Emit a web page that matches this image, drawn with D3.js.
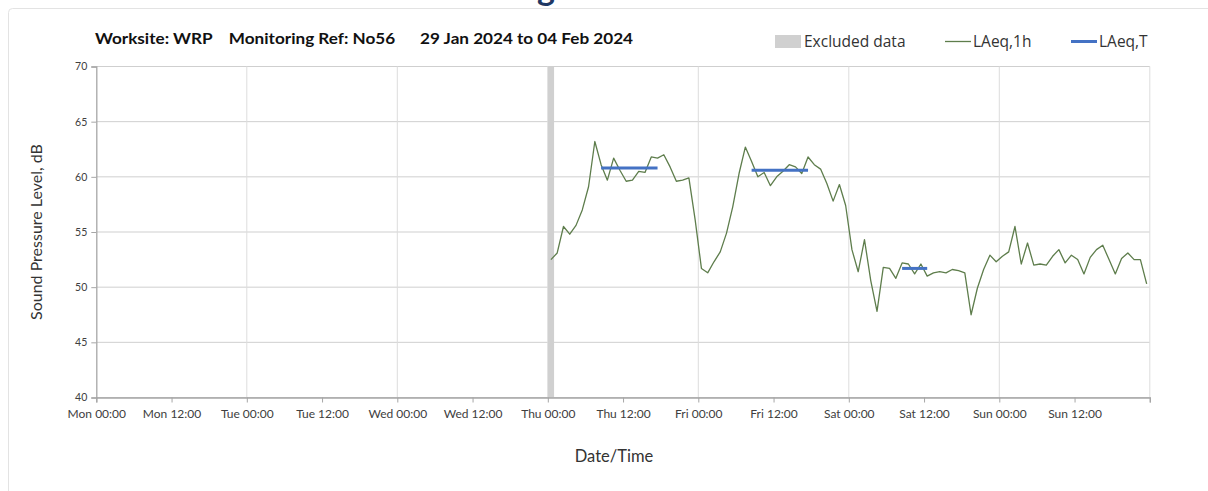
<!DOCTYPE html>
<html>
<head>
<meta charset="utf-8">
<script src="https://cdn.jsdelivr.net/npm/d3@7"></script>
<style>
  html, body { margin: 0; padding: 0; background: #ffffff; }
  svg { display: block; }
  text { font-family: Lato, "Open Sans", sans-serif; }
</style>
</head>
<body>
<svg id="chart" width="1208" height="491"></svg>
<script>
// ---------------- DATA ----------------
const titleText = "Worksite: WRP    Monitoring Ref: No56      29 Jan 2024 to 04 Feb 2024";
const xTickLabels = ["Mon 00:00", "Mon 12:00", "Tue 00:00", "Tue 12:00", "Wed 00:00", "Wed 12:00",
  "Thu 00:00", "Thu 12:00", "Fri 00:00", "Fri 12:00", "Sat 00:00", "Sat 12:00", "Sun 00:00", "Sun 12:00"];
const yTicks = [40, 45, 50, 55, 60, 65, 70];
// hours from Mon 00:00 of the first LAeq,1h point (hourly values, plotted at mid-hour)
const laeq1hStartHour = 72.5;
const laeq1hValues = [
  52.5, 53.1, 55.5, 54.8, 55.6, 57.0, 59.1, 63.2, 61.1, 59.7, 61.7, 60.6, 59.6, 59.7, 60.5, 60.4,
  61.8, 61.7, 62.0, 60.9, 59.6, 59.7, 59.9, 56.1, 51.7, 51.3, 52.3, 53.2, 54.9, 57.3, 60.3, 62.7,
  61.4, 60.0, 60.4, 59.2, 60.0, 60.5, 61.1, 60.9, 60.3, 61.8, 61.1, 60.7, 59.4, 57.8, 59.3, 57.4,
  53.4, 51.4, 54.3, 50.6, 47.8, 51.8, 51.7, 50.8, 52.2, 52.1, 51.2, 52.1, 51.0, 51.3, 51.4, 51.3,
  51.6, 51.5, 51.3, 47.5, 49.9, 51.6, 52.9, 52.3, 52.8, 53.2, 55.5, 52.1, 54.0, 52.0, 52.1, 52.0,
  52.8, 53.4, 52.2, 52.9, 52.5, 51.2, 52.7, 53.4, 53.8, 52.5, 51.2, 52.6, 53.1, 52.5, 52.5, 50.3
];
const laeqTStart = [80.5, 104.5, 128.5];
const laeqTEnd = [89.5, 113.5, 132.5];
const laeqTValues = [60.8, 60.6, 51.7];
const excludedStart = [72];
const excludedEnd = [73];
const legendLabels = ["Excluded data", "LAeq,1h", "LAeq,T"];

// ---------------- CHART ----------------
const svg = d3.select("#chart");
const W = 1208, H = 491;
const plot = { left: 96.3, right: 1149.8, top: 66.5, bottom: 397.5 };

const x = d3.scaleLinear().domain([0, 168]).range([plot.left, plot.right]);
const y = d3.scaleLinear().domain([40, 70]).range([plot.bottom, plot.top]);

// page frame
svg.append("rect").attr("x", 8.5).attr("y", 8.5).attr("width", W + 20).attr("height", H + 20)
  .attr("rx", 4).attr("fill", "none").attr("stroke", "#e3e3e3").attr("stroke-width", 1);

// cut-off heading fragment at top
svg.append("text").attr("x", 537).attr("y", 0).text("g")
  .attr("font-size", 34).attr("font-weight", "bold").attr("fill", "#1f3864");

// gridlines
const g = svg.append("g");
g.selectAll(".hgrid").data(yTicks).join("line")
  .attr("x1", plot.left).attr("x2", plot.right)
  .attr("y1", d => y(d)).attr("y2", d => y(d))
  .attr("stroke", "#cfcfcf").attr("stroke-width", 1);
const dayTicks = d3.range(24, 169, 24);
g.selectAll(".vgrid").data(dayTicks).join("line")
  .attr("x1", d => x(d)).attr("x2", d => x(d))
  .attr("y1", plot.top).attr("y2", plot.bottom)
  .attr("stroke", "#dddddd").attr("stroke-width", 1);

// excluded band
g.selectAll(".excl").data(excludedStart).join("rect")
  .attr("x", (d) => x(d))
  .attr("width", (d, i) => x(excludedEnd[i]) - x(d))
  .attr("y", plot.top).attr("height", plot.bottom - plot.top)
  .attr("fill", "#d0d0d0");

// axes
const xAxis = d3.axisBottom(x)
  .tickValues(d3.range(0, 169, 12))
  .tickSize(5)
  .tickFormat((d, i) => xTickLabels[i] || "");
const xg = svg.append("g").attr("transform", `translate(0,${plot.bottom})`).call(xAxis);
xg.select(".domain").attr("stroke", "#a6a6a6").attr("stroke-width", 1.3);
xg.selectAll(".tick line").attr("stroke", "#a6a6a6");
xg.selectAll(".tick text").attr("font-size", 12).attr("fill", "#404040").attr("dy", "1.05em");

const yAxis = d3.axisLeft(y).tickValues(yTicks).tickSize(5).tickFormat(d3.format("d"));
const yg = svg.append("g").attr("transform", `translate(${plot.left},0)`).call(yAxis);
yg.select(".domain").attr("stroke", "#a6a6a6").attr("stroke-width", 1.3);
yg.selectAll(".tick line").attr("stroke", "#a6a6a6");
yg.selectAll(".tick text").attr("font-size", 10.5).attr("fill", "#404040").attr("x", -9);

// LAeq,1h line
const pts = laeq1hValues.map((v, i) => [laeq1hStartHour + i, v]);
svg.append("path").datum(pts)
  .attr("d", d3.line().x(d => x(d[0])).y(d => y(d[1])))
  .attr("fill", "none").attr("stroke", "#5e7d4c").attr("stroke-width", 1.3)
  .attr("stroke-linejoin", "round");

// LAeq,T lines
svg.selectAll(".laeqT").data(laeqTValues).join("line")
  .attr("x1", (d, i) => x(laeqTStart[i])).attr("x2", (d, i) => x(laeqTEnd[i]))
  .attr("y1", d => y(d)).attr("y2", d => y(d))
  .attr("stroke", "#4472c4").attr("stroke-width", 3);

// title
svg.append("text").attr("x", 95).attr("y", 44).text(titleText)
  .attr("font-size", 15.5).attr("font-weight", "bold").attr("fill", "#111")
  .attr("textLength", 538).attr("lengthAdjust", "spacingAndGlyphs")
  .style("white-space", "pre").attr("xml:space", "preserve");

// legend
const lg = svg.append("g");
const legendFont = "'Open Sans', Lato, sans-serif";
lg.append("rect").attr("x", 775).attr("y", 35).attr("width", 26).attr("height", 13).attr("fill", "#d0d0d0");
lg.append("text").attr("x", 804).attr("y", 47).text(legendLabels[0]).attr("fill", "#333")
  .style("font-family", legendFont).style("font-size", "15.5px");
lg.append("line").attr("x1", 945).attr("x2", 971).attr("y1", 41.5).attr("y2", 41.5)
  .attr("stroke", "#5e7d4c").attr("stroke-width", 1.3);
lg.append("text").attr("x", 973).attr("y", 47).text(legendLabels[1]).attr("fill", "#333")
  .style("font-family", legendFont).style("font-size", "15.5px");
lg.append("line").attr("x1", 1071).attr("x2", 1097).attr("y1", 41.5).attr("y2", 41.5)
  .attr("stroke", "#4472c4").attr("stroke-width", 3);
lg.append("text").attr("x", 1099).attr("y", 47).text(legendLabels[2]).attr("fill", "#333")
  .style("font-family", legendFont).style("font-size", "15.5px");

// axis titles
svg.append("text").attr("x", 614).attr("y", 462).attr("text-anchor", "middle")
  .text("Date/Time").attr("font-size", 16.5).attr("fill", "#333");
svg.append("text").attr("transform", `translate(42,${(plot.top + plot.bottom) / 2}) rotate(-90)`)
  .attr("text-anchor", "middle").text("Sound Pressure Level, dB")
  .attr("font-size", 16).attr("fill", "#333");
</script>
</body>
</html>
